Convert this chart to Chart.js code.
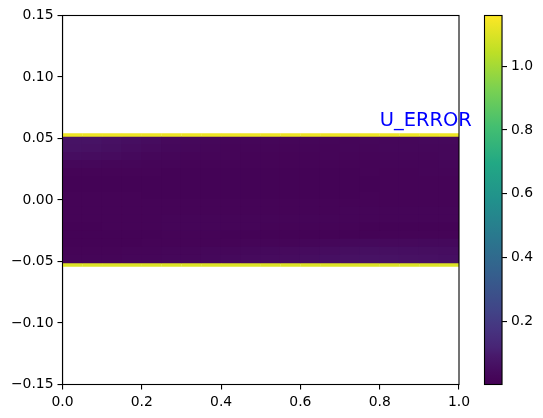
<!DOCTYPE html>
<html>
<head>
<meta charset="utf-8">
<style>
  html, body { margin: 0; padding: 0; background: #fff; overflow: hidden; }
  canvas { position: absolute; top: 0; }
  #field { left: 0; }
  #colorbar { left: 470px; }
</style>
<script src="https://cdn.jsdelivr.net/npm/chart.js@4"></script>
</head>
<body>
<canvas id="field" width="543" height="418"></canvas>
<canvas id="colorbar" width="73" height="418"></canvas>
<script>
// cell centres along x
const xCentres = [0.025, 0.075, 0.125, 0.175, 0.225, 0.275, 0.325, 0.375, 0.425, 0.475,
                  0.525, 0.575, 0.625, 0.675, 0.725, 0.775, 0.825, 0.875, 0.925, 0.975];
// row edges along y, top to bottom
const rowEdges = [0.0516, 0.045, 0.0385, 0.032, 0.0255, 0.019, 0.0125, 0.006, 0.0003,
                  -0.006, -0.0125, -0.019, -0.0255, -0.032, -0.0385, -0.045, -0.0516];
// wall rows
const wallTop = [0.0516, 0.0541];
const wallBottom = [-0.0541, -0.0516];
const wallTopError = 1.13;
const wallBottomError = 1.10;
// U error per row, top to bottom
const row01 = [.072,.070,.062,.054,.046,.038,.032,.028,.025,.024,.023,.023,.024,.025,.026,.027,.029,.030,.031,.033];
const row02 = [.066,.064,.056,.048,.040,.033,.028,.024,.022,.021,.020,.020,.021,.022,.023,.025,.027,.028,.029,.030];
const row03 = [.050,.048,.042,.036,.030,.026,.022,.020,.018,.017,.016,.016,.017,.018,.019,.021,.023,.025,.026,.027];
const row04 = [.030,.029,.026,.023,.020,.018,.016,.015,.014,.013,.013,.013,.013,.014,.015,.017,.019,.021,.022,.023];
const row05 = [.015,.015,.015,.014,.013,.012,.012,.011,.011,.010,.010,.010,.011,.011,.012,.014,.015,.017,.018,.019];
const row06 = [.011,.011,.011,.011,.011,.010,.010,.010,.009,.009,.009,.009,.010,.010,.011,.012,.013,.014,.015,.016];
const row07 = [.012,.012,.012,.011,.011,.010,.010,.010,.009,.009,.009,.009,.010,.010,.011,.012,.013,.013,.014,.015];
const row08 = [.014,.014,.013,.013,.012,.012,.011,.011,.011,.011,.011,.011,.011,.012,.012,.013,.013,.014,.014,.015];
const row09 = [.015,.015,.015,.014,.014,.013,.013,.013,.013,.013,.013,.013,.014,.014,.015,.015,.016,.016,.017,.017];
const row10 = [.015,.015,.015,.015,.015,.015,.015,.015,.015,.015,.016,.016,.017,.017,.018,.018,.019,.019,.019,.020];
const row11 = [.014,.014,.015,.016,.017,.018,.019,.019,.019,.019,.019,.019,.020,.020,.020,.019,.019,.018,.018,.018];
const row12 = [.011,.012,.013,.014,.016,.018,.019,.019,.019,.018,.017,.016,.015,.014,.013,.012,.011,.011,.011,.011];
const row13 = [.009,.009,.010,.011,.012,.013,.013,.013,.012,.011,.011,.011,.011,.011,.011,.012,.013,.013,.014,.014];
const row14 = [.011,.011,.011,.012,.013,.015,.016,.017,.017,.018,.019,.021,.025,.029,.033,.036,.037,.037,.036,.036];
const row15 = [.015,.015,.016,.018,.020,.023,.025,.027,.029,.032,.035,.039,.044,.049,.053,.056,.056,.055,.053,.051];
const row16 = [.019,.019,.021,.023,.025,.028,.030,.033,.036,.039,.043,.048,.053,.058,.063,.066,.066,.064,.062,.059];
const errorRows = [row01, row02, row03, row04, row05, row06, row07, row08,
                   row09, row10, row11, row12, row13, row14, row15, row16];

const xTicks = [0, 0.2, 0.4, 0.6, 0.8, 1];
const yTicks = [-0.15, -0.1, -0.05, 0, 0.05, 0.1, 0.15];
const barTicks = [0.2, 0.4, 0.6, 0.8, 1];
const errorMin = 0.0014;
const errorMax = 1.159;

const label = 'U_ERROR';

// viridis colour map
const viridisStops = [0, 0.02, 0.04, 0.06, 0.08, 0.1, 0.15, 0.2, 0.3, 0.4, 0.5, 0.6, 0.7, 0.8, 0.9, 1];
const viridisColors = [
    [68, 1, 84], [69, 6, 89], [70, 12, 95], [71, 19, 101], [72, 26, 108], [72, 36, 117],
    [70, 52, 128], [65, 68, 135], [53, 95, 141], [42, 120, 142], [33, 145, 140],
    [34, 168, 132], [68, 191, 112], [122, 209, 81], [189, 223, 38], [253, 231, 37]
];

function viridis(value) {
    const t = Math.min(1, Math.max(0, (value - errorMin) / (errorMax - errorMin)));
    let i = 0;
    while (i < viridisStops.length - 2 && t > viridisStops[i + 1]) {
        i++;
    }
    const f = (t - viridisStops[i]) / (viridisStops[i + 1] - viridisStops[i]);
    const c = viridisColors[i].map((v, k) => Math.round(v + (viridisColors[i + 1][k] - v) * f));
    return 'rgb(' + c[0] + ',' + c[1] + ',' + c[2] + ')';
}

function rowDataset(span, values, inflate) {
    return {
        data: xCentres.map((x) => ({ x: x, y: span })),
        backgroundColor: values.map(viridis),
        borderWidth: 0,
        inflateAmount: inflate,
        barPercentage: 1,
        categoryPercentage: 1,
        grouped: false
    };
}

const datasets = errorRows.map((values, i) => rowDataset([rowEdges[i + 1], rowEdges[i]], values, 0.6));
// order: walls are painted over the inflated rows
datasets.push(rowDataset(wallTop, xCentres.map(() => wallTopError), 0.1));
datasets.push(rowDataset(wallBottom, xCentres.map(() => wallBottomError), 0.1));
datasets.forEach((d, i) => { d.order = datasets.length - i; });

const tickFont = { family: 'DejaVu Sans', size: 13.9 };

function minusSign(text) {
    return text.replace('-', '\u2212');
}

// top and right spines, and the text label
const framePlugin = {
    id: 'frame',
    afterDraw(chart) {
        const area = chart.chartArea;
        const ctx = chart.ctx;
        ctx.save();
        ctx.strokeStyle = '#000';
        ctx.lineWidth = 1.1;
        ctx.strokeRect(area.left, area.top, area.right - area.left, area.bottom - area.top);
        if (chart.canvas.id === 'field') {
            ctx.fillStyle = '#0000ff';
            ctx.font = '19.44px "DejaVu Sans"';
            ctx.textBaseline = 'alphabetic';
            ctx.fillText(label, chart.scales.x.getPixelForValue(0.8), chart.scales.y.getPixelForValue(0.06));
        }
        ctx.restore();
    }
};

new Chart(document.getElementById('field'), {
    type: 'bar',
    data: { datasets: datasets },
    plugins: [framePlugin],
    options: {
        responsive: false,
        animation: false,
        devicePixelRatio: 1,
        layout: { padding: { left: 0.5, top: 15.5, right: 84, bottom: 0 } },
        plugins: { legend: { display: false }, tooltip: { enabled: false } },
        scales: {
            x: {
                type: 'linear',
                min: 0,
                max: 1,
                offset: false,
                afterBuildTicks: (scale) => { scale.ticks = xTicks.map((v) => ({ value: v })); },
                afterFit: (scale) => { scale.height = 33.5; },
                grid: { offset: false, drawOnChartArea: false, color: '#000', lineWidth: 1.1, tickLength: 5 },
                border: { color: '#000', width: 1.1 },
                ticks: {
                    color: '#000',
                    font: tickFont,
                    padding: 5,
                    maxRotation: 0,
                    autoSkip: false,
                    callback: (v) => v.toFixed(1)
                }
            },
            y: {
                type: 'linear',
                min: -0.15,
                max: 0.15,
                beginAtZero: false,
                afterBuildTicks: (scale) => { scale.ticks = yTicks.map((v) => ({ value: v })); },
                afterFit: (scale) => { scale.width = 62; },
                grid: { drawOnChartArea: false, color: '#000', lineWidth: 1.1, tickLength: 5 },
                border: { color: '#000', width: 1.1 },
                ticks: {
                    color: '#000',
                    font: tickFont,
                    padding: 4,
                    autoSkip: false,
                    callback: (v) => minusSign(v.toFixed(2))
                }
            }
        }
    }
});

// colour bar
function barGradient(context) {
    const chart = context.chart;
    if (!chart.chartArea) {
        return '#000';
    }
    const area = chart.chartArea;
    const g = chart.ctx.createLinearGradient(0, area.bottom, 0, area.top);
    viridisStops.forEach((s, i) => {
        const c = viridisColors[i];
        g.addColorStop(s, 'rgb(' + c[0] + ',' + c[1] + ',' + c[2] + ')');
    });
    return g;
}

new Chart(document.getElementById('colorbar'), {
    type: 'bar',
    data: {
        labels: ['U_ERROR'],
        datasets: [{
            data: [[errorMin, errorMax]],
            backgroundColor: barGradient,
            borderWidth: 0,
            barPercentage: 1,
            categoryPercentage: 1
        }]
    },
    plugins: [framePlugin],
    options: {
        responsive: false,
        animation: false,
        devicePixelRatio: 1,
        layout: { padding: { left: 14.5, top: 15.5, right: 0, bottom: 33.5 } },
        plugins: { legend: { display: false }, tooltip: { enabled: false } },
        scales: {
            x: { display: false },
            y: {
                type: 'linear',
                position: 'right',
                min: errorMin,
                max: errorMax,
                afterBuildTicks: (scale) => { scale.ticks = barTicks.map((v) => ({ value: v })); },
                afterFit: (scale) => { scale.width = 41; },
                grid: { drawOnChartArea: false, color: '#000', lineWidth: 1.1, tickLength: 5 },
                border: { color: '#000', width: 1.1 },
                ticks: {
                    color: '#000',
                    font: tickFont,
                    padding: 4,
                    autoSkip: false,
                    callback: (v) => v.toFixed(1)
                }
            }
        }
    }
});
</script>
</body>
</html>
